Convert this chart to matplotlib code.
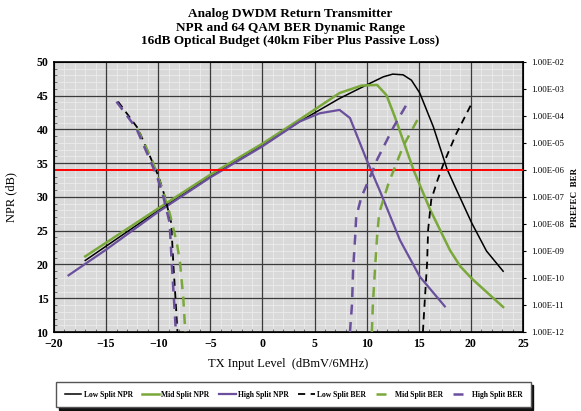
import numpy as np
import matplotlib
matplotlib.use("Agg")
import matplotlib.pyplot as plt
from matplotlib.ticker import FixedLocator, MultipleLocator, FuncFormatter

plt.rcParams['font.family'] = ['Liberation Serif', 'DejaVu Serif']

# NPR curves (TX input level dBmV/6MHz, NPR dB)
low_npr_x = [-17.0, -10, -5, 0, 3.6, 7.4, 10.0, 11.6, 12.5, 13.5, 14.3, 15.1, 16.4, 17.7, 18.4, 20.1, 21.5, 23.1]
low_npr_y = [20.6, 28.0, 33.1, 37.7, 41.2, 44.6, 46.6, 47.8, 48.2, 48.1, 47.3, 45.4, 40.4, 34.2, 31.8, 26.1, 22.0, 19.0]

mid_npr_x = [-17.0, -10, -5, 0, 3.6, 7.4, 9.5, 11.0, 11.9, 12.7, 14.5, 16.1, 18.0, 19.0, 20.1, 23.1]
mid_npr_y = [21.2, 28.3, 33.3, 37.9, 41.5, 45.4, 46.5, 46.6, 45.1, 41.9, 34.0, 28.1, 22.1, 19.7, 17.9, 13.7]

high_npr_x = [-18.6, -15, -10, -5, 0, 3.6, 5.5, 7.4, 8.4, 10.0, 11.3, 13.2, 15.1, 17.5]
high_npr_y = [18.4, 22.2, 27.8, 32.9, 37.5, 41.2, 42.4, 42.9, 41.7, 35.5, 30.8, 23.6, 18.2, 13.8]

# BER curves (left branch, right branch), NaN splits the branches
low_ber_x = [-13.85, -11.95, -10.65, -9.95, -9.35, -8.75, -8.55, -8.35, -8.15,
             np.nan, 15.4, 15.6, 15.8, 15.9, 16.2, 16.8, 17.4, 18.6, 20.1]
low_ber = [3.4e-4, 3.5e-5, 2.4e-6, 5.6e-7, 1.0e-7, 1.1e-8, 3.5e-10, 2.0e-11, 1.0e-12,
           np.nan, 1.0e-12, 2.0e-11, 3.5e-10, 6.0e-9, 7.9e-8, 4.2e-7, 1.8e-6, 2.2e-5, 3.0e-4]

mid_ber_x = [-12.0, -10.6, -9.8, -8.9, -8.2, -7.9, -7.6, -7.4,
             np.nan, 10.5, 10.6, 10.8, 11.0, 11.2, 11.6, 12.1, 13.5, 15.0]
mid_ber = [3.3e-5, 2.4e-6, 3.2e-7, 2.5e-8, 1.9e-9, 3.5e-10, 2.0e-11, 1.0e-12,
           np.nan, 1.0e-12, 1.1e-11, 2.0e-10, 3.3e-9, 2.5e-8, 7.9e-8, 3.2e-7, 7.5e-6, 8.9e-5]

high_ber_x = [-14.0, -12.1, -10.8, -10.1, -9.5, -8.9, -8.7, -8.5, -8.3,
              np.nan, 8.4, 8.6, 8.7, 8.9, 9.0, 9.5, 10.2, 11.0, 12.6, 14.1]
high_ber = [3.4e-4, 3.5e-5, 2.4e-6, 5.6e-7, 1.0e-7, 1.1e-8, 3.5e-10, 2.0e-11, 1.0e-12,
            np.nan, 1.0e-12, 1.1e-11, 2.0e-10, 3.3e-9, 1.9e-8, 1.0e-7, 4.2e-7, 2.4e-6, 4.0e-5, 4.0e-4]

npr_limit = 34
ber_ticks = [10.0 ** e for e in range(-12, -1)]

GREEN = '#7aa83b'
PURPLE = '#6a4f9c'

fig = plt.figure(figsize=(5.81, 4.11), dpi=100)
ax = fig.add_axes([0.0929, 0.1922, 0.8072, 0.657])
ax.set_facecolor('#d9d9d9')

ax.set_xlim(-20, 25)
ax.set_ylim(10, 50)
ax.xaxis.set_major_locator(MultipleLocator(5))
ax.yaxis.set_major_locator(MultipleLocator(5))
ax.xaxis.set_minor_locator(MultipleLocator(1))
ax.yaxis.set_minor_locator(MultipleLocator(1))

# grid: light minor lines under dark major lines
for v in range(-19, 25):
    ax.axvline(v, color='#ececec', lw=0.6, zorder=0.2)
for v in range(11, 50):
    ax.axhline(v, color='#ececec', lw=0.6, zorder=0.2)
for v in range(-15, 25, 5):
    ax.axvline(v, color='#3a3a3a', lw=0.9, zorder=0.3)
for v in range(15, 50, 5):
    ax.axhline(v, color='#3a3a3a', lw=0.9, zorder=0.3)

ax.tick_params(which='major', length=0, labelsize=8.5, pad=4)
ax.tick_params(which='minor', direction='in', length=2.5, width=0.6, color='#555555')
for lab in ax.get_xticklabels() + ax.get_yticklabels():
    lab.set_fontweight('bold')
for s in ax.spines.values():
    s.set_linewidth(1.2)

l1, = ax.plot(low_npr_x, low_npr_y, color='black', lw=1.1, label='Low Split NPR')
l2, = ax.plot(mid_npr_x, mid_npr_y, color=GREEN, lw=1.8, label='Mid Split NPR')
l3, = ax.plot(high_npr_x, high_npr_y, color=PURPLE, lw=1.6, label='High Split NPR')
ax.axhline(npr_limit, color='red', lw=1.4, zorder=4)

ax.set_xlabel('TX Input Level  (dBmV/6MHz)', fontsize=9, labelpad=6)
ax.set_ylabel('NPR (dB)', fontsize=9)
ax.yaxis.set_label_coords(-0.079, 0.5)

ax2 = ax.twinx()
ax2.set_yscale('log')
ax2.set_ylim(1e-12, 1e-2)
ax2.yaxis.set_major_locator(FixedLocator(ber_ticks))
ax2.yaxis.set_minor_locator(FixedLocator([]))
ax2.yaxis.set_major_formatter(FuncFormatter(lambda v, p: '%.2E' % v))
ax2.tick_params(axis='y', labelsize=6.3, length=2, pad=4)
l4, = ax2.plot(low_ber_x, low_ber, color='black', lw=1.3, ls=(0, (4, 3)), label='Low Split BER')
l5, = ax2.plot(mid_ber_x, mid_ber, color=GREEN, lw=1.8, ls=(0, (4, 3)), label='Mid Split BER')
l6, = ax2.plot(high_ber_x, high_ber, color=PURPLE, lw=1.8, ls=(0, (4, 3)), label='High Split BER')
ax2.set_ylabel('PREFEC  BER', fontsize=6.5, fontweight='bold')
ax2.yaxis.set_label_coords(1.103, 0.5)

fig.text(0.5, 0.965, 'Analog DWDM Return Transmitter', ha='center', va='center',
         fontsize=9.5, fontweight='bold')
fig.text(0.5, 0.933, 'NPR and 64 QAM BER Dynamic Range', ha='center', va='center',
         fontsize=9.5, fontweight='bold')
fig.text(0.5, 0.901, '16dB Optical Budget (40km Fiber Plus Passive Loss)', ha='center', va='center',
         fontsize=9.5, fontweight='bold')

leg = fig.legend(handles=[l1, l2, l3, l4, l5, l6], loc='center', bbox_to_anchor=(0.505, 0.04),
                 ncol=6, frameon=True, fancybox=False, edgecolor='#555555',
                 prop={'size': 5.5, 'weight': 'bold'}, handlelength=2.2, handletextpad=0.3,
                 columnspacing=1.25, borderpad=1.1,
                 shadow={'color': 'black', 'alpha': 0.9})

fig.savefig('out.png', dpi=100)
